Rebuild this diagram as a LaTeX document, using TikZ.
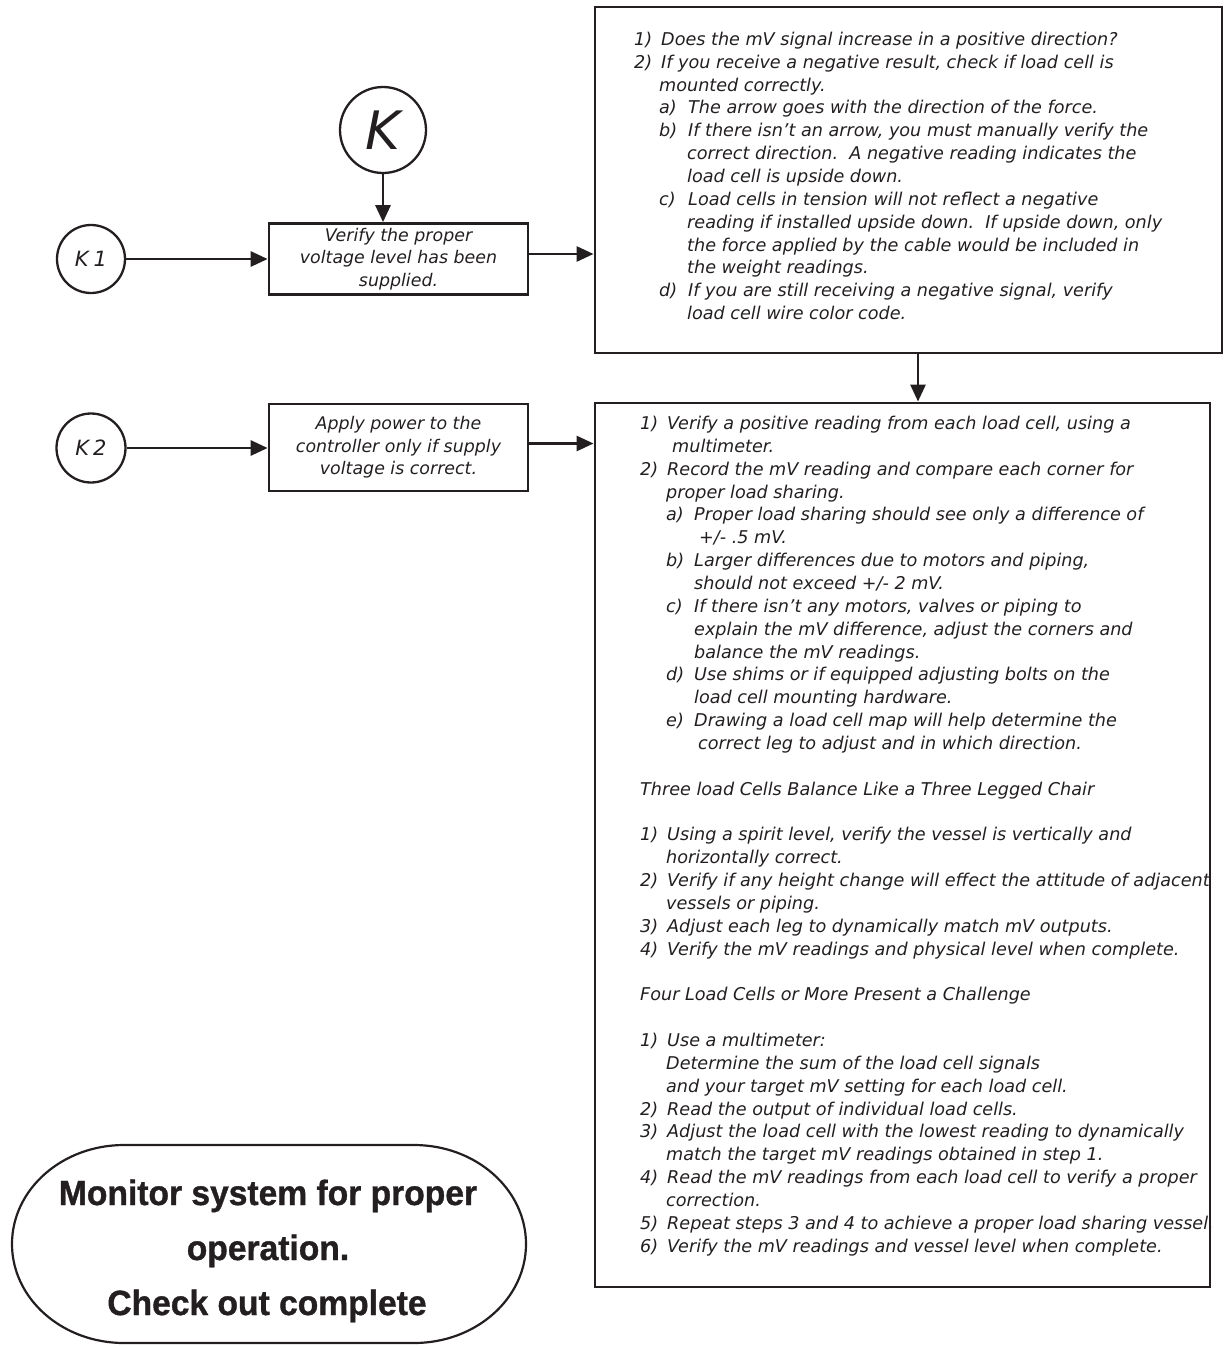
\documentclass[tikz,border=0pt]{standalone}
\usepackage{fontspec}
\setmainfont{DejaVu Sans}
\newfontfamily\termfont[FakeStretch=0.96,FakeBold=1]{Liberation Sans}
\usetikzlibrary{arrows.meta}
\definecolor{ink}{RGB}{35,31,32}
\tikzset{
  ln/.style={anchor=base west, inner sep=0pt, text=ink, font=\fontsize{17.6}{22}\selectfont\itshape},
  stepbox/.style={draw=ink, line width=2.7pt, minimum width=259pt, align=center, inner sep=0pt,
    text=ink, font=\fontsize{17.4}{22.5}\selectfont\itshape},
  bigbox/.style={draw=ink, line width=2.9pt, inner sep=0pt},
  conn/.style={draw=ink, circle, line width=2.3pt, inner sep=0pt, text=ink},
  arr/.style={draw=ink, line width=2.8pt, -{Triangle[length=17pt,width=15pt]}},
  term/.style={anchor=base, inner sep=0pt, text=ink, font=\fontsize{35}{40}\selectfont\termfont\bfseries}
}
\begin{document}
\begin{tikzpicture}[x=1pt,y=-1pt]
\useasboundingbox (0,0) rectangle (1224,1347);
% connectors (circles)
\node[conn, minimum size=86pt, font=\fontsize{53}{53}\selectfont\itshape] (K) at (383,130) {K};
\node[conn, minimum size=68pt, font=\fontsize{21}{21}\selectfont\itshape] (K1) at (91,259) {K\kern5pt1};
\node[conn, minimum size=69pt, font=\fontsize{21}{21}\selectfont\itshape] (K2) at (91,448) {K\kern4pt2};
% step boxes
\node[stepbox, minimum height=71pt] (box1) at (398.5,259) {Verify the proper\\voltage level has been\\supplied.};
\node[stepbox, minimum height=87pt] (box2) at (398.5,447.5) {Apply power to the\\controller only if supply\\voltage is correct.};
% big boxes
\node[bigbox, minimum width=627pt, minimum height=346pt] (big1) at (908.5,180) {};
\node[bigbox, minimum width=615pt, minimum height=884pt] (big2) at (902.5,845) {};
% arrows
\draw[arr] (K.south) -- (K.south |- box1.north);
\draw[arr] (K1.east) -- (K1.east -| box1.west);
\draw[arr] ([yshift=5pt]box1.east) -- ([yshift=5pt]box1.east -| big1.west);
\draw[arr] ([xshift=9.5pt]big1.south) -- ([xshift=9.5pt]big1.south |- big2.north);
\draw[arr] (K2.east) -- (K2.east -| box2.west);
\draw[arr] ([yshift=4pt]box2.east) -- ([yshift=4pt]box2.east -| big2.west);
% text of big box 1
\node[ln] (a0n) at (634,45.3) {1)};
\node[ln] (a0t) at (661,45.3) {Does the mV signal increase in a positive direction?};
\node[ln] (a1n) at (634,68.2) {2)};
\node[ln] (a1t) at (661,68.2) {If you receive a negative result, check if load cell is};
\node[ln] (a2t) at (659,91.0) {mounted correctly.};
\node[ln] (a3n) at (659,113.9) {a)};
\node[ln] (a3t) at (688,113.9) {The arrow goes with the direction of the force.};
\node[ln] (a4n) at (659,136.7) {b)};
\node[ln] (a4t) at (688,136.7) {If there isn’t an arrow, you must manually verify the};
\node[ln] (a5t) at (687,159.6) {correct direction.\ \ A negative reading indicates the};
\node[ln] (a6t) at (687,182.4) {load cell is upside down.};
\node[ln] (a7n) at (659,205.3) {c)};
\node[ln] (a7t) at (688,205.3) {Load cells in tension will not reflect a negative};
\node[ln] (a8t) at (687,228.1) {reading if installed upside down.\ \ If upside down, only};
\node[ln] (a9t) at (687,251.0) {the force applied by the cable would be included in};
\node[ln] (a10t) at (687,273.8) {the weight readings.};
\node[ln] (a11n) at (659,296.7) {d)};
\node[ln] (a11t) at (688,296.7) {If you are still receiving a negative signal, verify};
\node[ln] (a12t) at (687,319.5) {load cell wire color code.};
% text of big box 2
\node[ln] (b0n) at (640,429.5) {1)};
\node[ln] (b0t) at (667,429.5) {Verify a positive reading from each load cell, using a};
\node[ln] (b1t) at (672,452.4) {multimeter.};
\node[ln] (b2n) at (640,475.2) {2)};
\node[ln] (b2t) at (667,475.2) {Record the mV reading and compare each corner for};
\node[ln] (b3t) at (666,498.1) {proper load sharing.};
\node[ln] (b4n) at (666,520.9) {a)};
\node[ln] (b4t) at (694,520.9) {Proper load sharing should see only a difference of};
\node[ln] (b5t) at (699,543.8) {+/- .5 mV.};
\node[ln] (b6n) at (666,566.6) {b)};
\node[ln] (b6t) at (694,566.6) {Larger differences due to motors and piping,};
\node[ln] (b7t) at (694,589.5) {should not exceed +/- 2 mV.};
\node[ln] (b8n) at (666,612.3) {c)};
\node[ln] (b8t) at (694,612.3) {If there isn’t any motors, valves or piping to};
\node[ln] (b9t) at (694,635.2) {explain the mV difference, adjust the corners and};
\node[ln] (b10t) at (694,658.0) {balance the mV readings.};
\node[ln] (b11n) at (666,680.9) {d)};
\node[ln] (b11t) at (694,680.9) {Use shims or if equipped adjusting bolts on the};
\node[ln] (b12t) at (694,703.7) {load cell mounting hardware.};
\node[ln] (b13n) at (666,726.6) {e)};
\node[ln] (b13t) at (694,726.6) {Drawing a load cell map will help determine the};
\node[ln] (b14t) at (698,749.4) {correct leg to adjust and in which direction.};
\node[ln] (b16t) at (640,795.1) {Three load Cells Balance Like a Three Legged Chair};
\node[ln] (b18n) at (640,840.8) {1)};
\node[ln] (b18t) at (667,840.8) {Using a spirit level, verify the vessel is vertically and};
\node[ln] (b19t) at (666,863.7) {horizontally correct.};
\node[ln] (b20n) at (640,886.5) {2)};
\node[ln] (b20t) at (667,886.5) {Verify if any height change will effect the attitude of adjacent};
\node[ln] (b21t) at (666,909.4) {vessels or piping.};
\node[ln] (b22n) at (640,932.2) {3)};
\node[ln] (b22t) at (667,932.2) {Adjust each leg to dynamically match mV outputs.};
\node[ln] (b23n) at (640,955.1) {4)};
\node[ln] (b23t) at (667,955.1) {Verify the mV readings and physical level when complete.};
\node[ln] (b25t) at (640,1000.8) {Four Load Cells or More Present a Challenge};
\node[ln] (b27n) at (640,1046.5) {1)};
\node[ln] (b27t) at (667,1046.5) {Use a multimeter:};
\node[ln] (b28t) at (666,1069.4) {Determine the sum of the load cell signals};
\node[ln] (b29t) at (666,1092.2) {and your target mV setting for each load cell.};
\node[ln] (b30n) at (640,1115.1) {2)};
\node[ln] (b30t) at (667,1115.1) {Read the output of individual load cells.};
\node[ln] (b31n) at (640,1137.9) {3)};
\node[ln] (b31t) at (667,1137.9) {Adjust the load cell with the lowest reading to dynamically};
\node[ln] (b32t) at (666,1160.8) {match the target mV readings obtained in step 1.};
\node[ln] (b33n) at (640,1183.6) {4)};
\node[ln] (b33t) at (667,1183.6) {Read the mV readings from each load cell to verify a proper};
\node[ln] (b34t) at (666,1206.5) {correction.};
\node[ln] (b35n) at (640,1229.3) {5)};
\node[ln] (b35t) at (667,1229.3) {Repeat steps 3 and 4 to achieve a proper load sharing vessel.};
\node[ln] (b36n) at (640,1252.2) {6)};
\node[ln] (b36t) at (667,1252.2) {Verify the mV readings and vessel level when complete.};
% terminal shape
\draw[draw=ink, line width=2.2pt] (124,1145) -- (414,1145)
  arc[start angle=-90, end angle=90, x radius=112, y radius=99] -- (124,1343)
  arc[start angle=90, end angle=270, x radius=112, y radius=99] -- cycle;
\node[term] (done1) at (268,1205) {Monitor system for proper};
\node[term] (done2) at (268,1260) {operation.};
\node[term] (done3) at (267,1315) {Check out complete};
\end{tikzpicture}
\end{document}
